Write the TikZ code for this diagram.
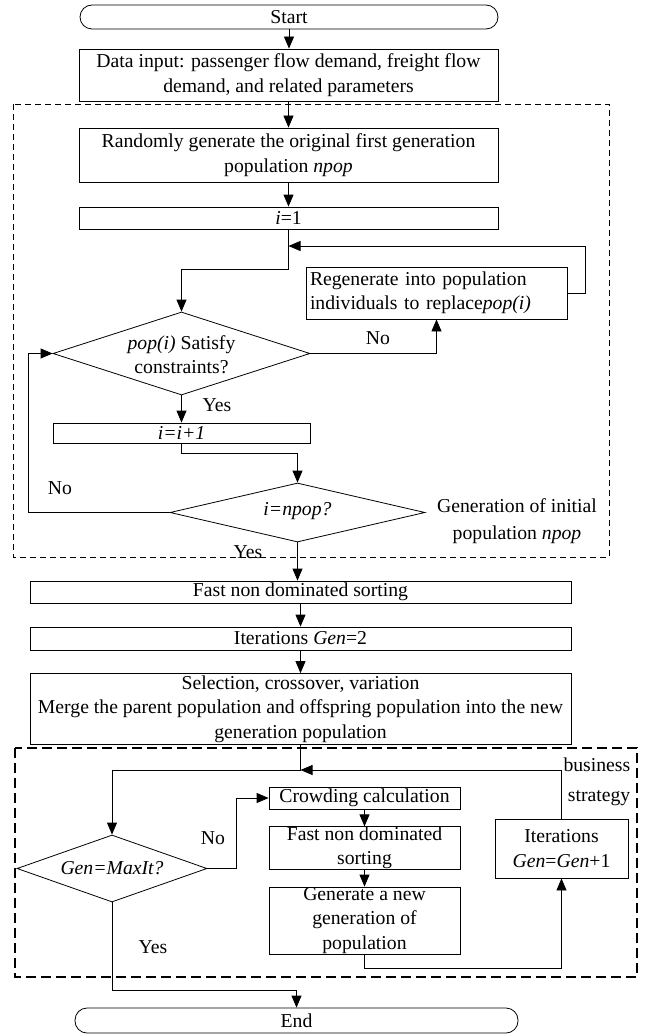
\documentclass[tikz,border=0pt]{standalone}
\usepackage{fontspec}
\setmainfont{Liberation Serif}
\usetikzlibrary{shapes.geometric,arrows.meta}
\begin{document}
\begin{tikzpicture}[x=1pt,y=-1pt,
  font=\fontsize{19.7}{24.5}\selectfont,
  line width=0.8pt,
  box/.style={draw,rectangle,inner sep=2pt,align=center},
  term/.style={draw,rectangle,rounded corners=12pt,inner sep=0pt},
  decision/.style={draw,diamond,inner sep=0pt},
  arr/.style={-{Triangle[length=12pt,width=10pt]}}]
\useasboundingbox (0,0) rectangle (651,1035);
% dashed frames
\draw[dash pattern=on 6pt off 4pt] (13,104) rectangle (609,557);
\draw[line width=1.2pt,dash pattern=on 10pt off 5pt] (15,748) rectangle (637,977);
% nodes
\node[term,minimum width=418pt,minimum height=24pt] (start) at (289,17) {Start};
\node[box,minimum width=419pt,minimum height=52pt] (data) at (288.5,75) {Data input: passenger flow demand, freight flow\\demand, and related parameters};
\node[box,minimum width=419pt,minimum height=54pt] (rand) at (288.5,155) {Randomly generate the original first generation\\population \textit{npop}};
\node[box,minimum width=419pt,minimum height=22pt,inner sep=0pt] (ione) at (288.5,218) {\textit{i}=1};
\node[box,text width=253pt,align=left,inner sep=4pt,minimum height=52pt] (regen) at (436.5,293) {Regenerate into population\\individuals to replace\textit{pop(i)}};
\node[decision,minimum width=257pt,minimum height=83pt] (dsat) at (181.5,353.5) {};
\node[align=center] (dsatt) at (181.5,354.5) {\textit{pop(i)} Satisfy\\constraints?};
\node[box,minimum width=257pt,minimum height=20pt,inner sep=0pt] (inc) at (181.5,433) {\textit{i=i+1}};
\node[decision,minimum width=255pt,minimum height=59pt] (dpop) at (297.5,512.5) {};
\node (dpopt) at (297.5,511) {\textit{i=npop?}};
\node[align=center] (geninit) at (517,521.5) {Generation of initial\\[2.5pt]population \textit{npop}};
\node[box,minimum width=541pt,minimum height=22pt,inner sep=0pt] (fns) at (300.5,592) {Fast non dominated sorting};
\node[box,minimum width=541pt,minimum height=23pt,inner sep=0pt] (iter) at (300.5,638.5) {Iterations \textit{Gen}=2};
\node[box,minimum width=541pt,minimum height=70pt] (sel) at (300.5,709) {Selection, crossover, variation\\Merge the parent population and offspring population into the new\\generation population};
\node[decision,minimum width=190pt,minimum height=67pt] (dmax) at (112,868.5) {};
\node (dmaxt) at (112,868) {\textit{Gen=MaxIt?}};
\node[box,minimum width=191pt,minimum height=22pt,inner sep=0pt] (crowd) at (364.5,798) {Crowding calculation};
\node[box,minimum width=191pt,minimum height=40pt,inner sep=0pt] (fnstwo) at (364.5,848) {Fast non dominated\\sorting};
\node[box,minimum width=191pt,minimum height=67pt,inner sep=0pt] (newgen) at (364.5,920.5) {Generate a new\\generation of\\population};
\node[box,minimum width=133pt,minimum height=59pt,inner sep=0pt] (iterone) at (561.5,848.5) {Iterations\\\textit{Gen}=\textit{Gen}+1};
\node[align=right,anchor=east] (bstr) at (634,782) {business\\[5.5pt]strategy};
\node[term,minimum width=443pt,minimum height=25pt] (stop) at (296.5,1020.5) {End};
% labels
\node (noa) at (378,338) {No};
\node (yesa) at (217,405) {Yes};
\node (nob) at (60,488) {No};
\node (yesb) at (248,552) {Yes};
\node (noc) at (213,838) {No};
\node (yesc) at (153,947) {Yes};
% connectors
\draw[arr] (start.south) -- (start.south |- data.north);
\draw[arr] (data.south) -- (rand.north);
\draw[arr] (rand.south) -- (ione.north);
\draw[arr] (ione.south) -- ++(0,40) -| (dsat.north);
\draw[arr] (regen.east) -| (585,246) -- (ione.south |- 0,246);
\draw[arr] (dsat.east) -| (regen.south);
\draw[arr] (dsat.south) -- (inc.north);
\draw[arr] (inc.south) -- ++(0,10) -| (dpop.north);
\draw[arr] (dpop.west) -- (28,512.5) |- (dsat.west);
\draw[arr] (dpop.south) -- (dpop.south |- fns.north);
\draw[arr] (fns.south) -- (iter.north);
\draw[arr] (iter.south) -- (sel.north);
\draw[arr] (sel.south) -- ++(0,26) -| (dmax.north);
\draw[arr] (iterone.north) |- (sel.south |- 0,770);
\draw[arr] (dmax.east) -- (236,868.5) |- (crowd.west);
\draw[arr] (crowd.south) -- (fnstwo.north);
\draw[arr] (fnstwo.south) -- (newgen.north);
\draw[arr] (newgen.south) -- ++(0,14) -| (iterone.south);
\draw[arr] (dmax.south) -- ++(0,88) -| (stop.north);
\end{tikzpicture}
\end{document}
